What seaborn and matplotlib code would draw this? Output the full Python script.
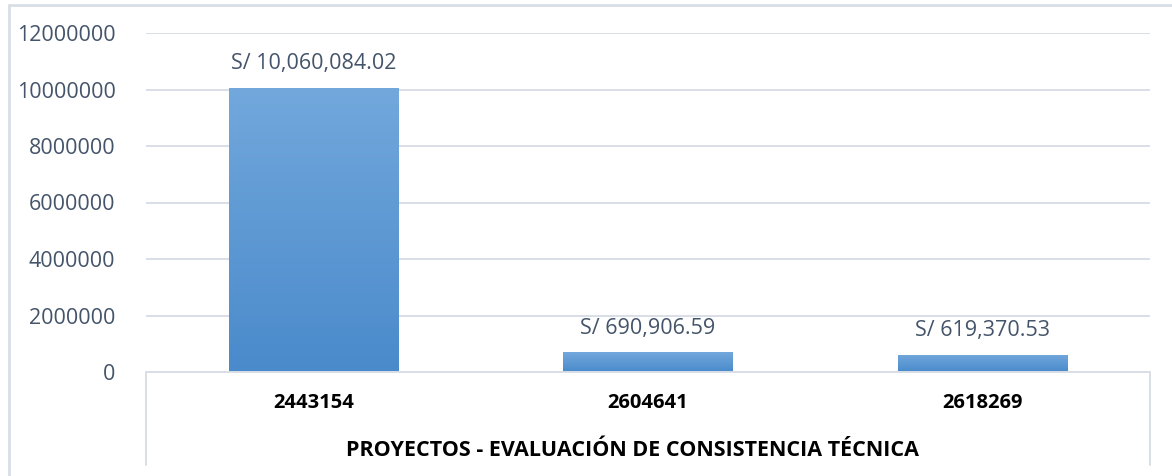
import numpy as np
import pandas as pd
import matplotlib
matplotlib.use("Agg")
import matplotlib.pyplot as plt
import seaborn as sns
from matplotlib.colors import LinearSegmentedColormap
from matplotlib.lines import Line2D

# --- data ---
proyectos = ["2443154", "2604641", "2618269"]
montos = [10060084.02, 690906.59, 619370.53]
etiquetas = ["S/ 10,060,084.02", "S/ 690,906.59", "S/ 619,370.53"]
y_ticks = [0, 2000000, 4000000, 6000000, 8000000, 10000000, 12000000]
titulo_x = "PROYECTOS - EVALUACIÓN DE CONSISTENCIA TÉCNICA"

sns.set_style("white")
plt.rcParams["font.family"] = ["Open Sans", "DejaVu Sans"]

grid_col = "#D9DEE6"
text_col = "#44546A"

W, H = 1172, 476
fig = plt.figure(figsize=(W / 100, H / 100), dpi=100)
x0, x1, y_top, y_bot = 146, 1150, 33, 372
ax = fig.add_axes([x0 / W, 1 - y_bot / H, (x1 - x0) / W, (y_bot - y_top) / H])

df = pd.DataFrame({"proyecto": proyectos, "monto": montos})
sns.barplot(data=df, x="proyecto", y="monto", ax=ax, width=0.505,
            color="#5B9BD5", saturation=1)

# gradient fill for the bars (light top -> darker bottom)
cmap = LinearSegmentedColormap.from_list("bar", ["#4A8ACB", "#72A8DC"])
grad = np.linspace(0, 1, 256).reshape(-1, 1)
for p in ax.patches:
    bx, by = p.get_x(), p.get_y()
    bw, bh = p.get_width(), p.get_height()
    im = ax.imshow(grad, cmap=cmap, aspect="auto", origin="lower",
                   extent=[bx, bx + bw, by, by + bh], zorder=3)
    im.set_clip_path(p)
    p.set_facecolor("none")
    p.set_edgecolor("none")

ax.set_xlim(-0.5, len(proyectos) - 0.5)
ax.set_ylim(0, 12000000)
ax.set_yticks(y_ticks)
ax.set_yticklabels([str(t) for t in y_ticks], color=text_col, fontsize=15.5)
ax.tick_params(axis="y", length=0, pad=22)
ax.set_xticks([])
ax.set_xlabel("")
ax.set_ylabel("")
for s in ax.spines.values():
    s.set_visible(False)
ax.yaxis.grid(True, color=grid_col, linewidth=1.4)
ax.set_axisbelow(True)

# data labels
for i, (v, lab) in enumerate(zip(montos, etiquetas)):
    ax.annotate(lab, (i, v), xytext=(0, 10), textcoords="offset points",
                ha="center", va="bottom", fontsize=15.5, color=text_col)

# category table below the axis
tbl = -(465 - y_bot) / (y_bot - y_top)
for xx in (0, 1):
    ax.add_line(Line2D([xx, xx], [0, tbl], transform=ax.transAxes,
                       color=grid_col, lw=1.4, clip_on=False))
ax.add_line(Line2D([0, 1], [0, 0], transform=ax.transAxes,
                   color=grid_col, lw=1.4, clip_on=False, zorder=4))
for i, c in enumerate(proyectos):
    ax.text((i + 0.5) / len(proyectos), -(403 - y_bot) / (y_bot - y_top), c,
            transform=ax.transAxes, ha="center", va="center",
            fontsize=14.5, fontweight="bold", color="black")
ax.text((632 - x0) / (x1 - x0), -(450 - y_bot) / (y_bot - y_top), titulo_x,
        transform=ax.transAxes, ha="center", va="center",
        fontsize=15.5, fontweight="bold", color="black")

# outer chart border (top and left visible)
fig.add_artist(Line2D([9 / W, 1], [1 - 5 / H, 1 - 5 / H], color=grid_col, lw=2))
fig.add_artist(Line2D([9 / W, 9 / W], [0, 1 - 5 / H], color=grid_col, lw=2))

fig.savefig("out.png", dpi=100)
